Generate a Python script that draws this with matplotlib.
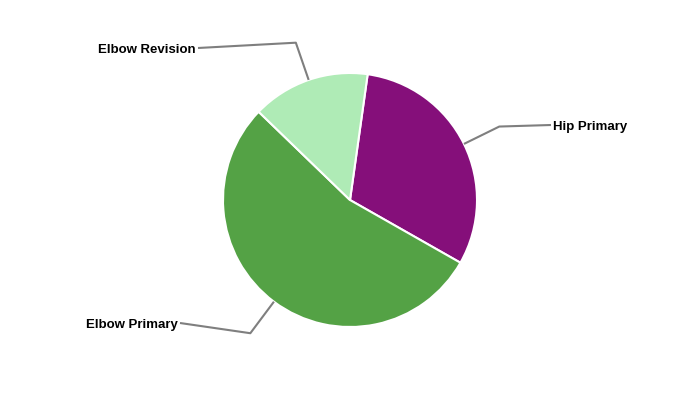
import numpy as np
import matplotlib.pyplot as plt

# pie data
categories = ['Hip Primary', 'Elbow Primary', 'Elbow Revision']
values = [31, 54, 15]
colors = ['#850f7a', '#54a245', '#afebb6']

W, H = 700, 400
cx, cy, r = 350, 200, 127
start = 82  # degrees, ccw from x axis; slices go clockwise

# label anchor points (pixel coords, y down) and alignment
label_pos = {
    'Hip Primary': (553, 125, 'left'),
    'Elbow Primary': (178, 323, 'right'),
    'Elbow Revision': (196, 48, 'right'),
}

fig = plt.figure(figsize=(7, 4), dpi=100)
ax = fig.add_axes([0, 0, 1, 1])

wedges, _ = ax.pie(values, colors=colors, startangle=start, counterclock=False,
                   radius=r, center=(cx, H - cy),
                   wedgeprops=dict(edgecolor='white', linewidth=1.5))

ax.set_xlim(0, W)
ax.set_ylim(0, H)
ax.set_aspect('equal')
ax.axis('off')

for w, name in zip(wedges, categories):
    mid = np.deg2rad((w.theta1 + w.theta2) / 2)
    x0, y0 = cx + r * np.cos(mid), (H - cy) + r * np.sin(mid)
    x1, y1 = cx + 1.31 * r * np.cos(mid), (H - cy) + 1.31 * r * np.sin(mid)
    lx, ly, ha = label_pos[name]
    ax.plot([x0, x1, lx + (-2 if ha == 'left' else 2)], [y0, y1, H - ly],
            color='#7f7f7f', lw=1.5, solid_capstyle='butt')
    ax.text(lx, H - ly - 2, name, ha=ha, va='center', fontsize=9.5,
            fontweight='bold', family='Liberation Sans', color='black')

fig.savefig('out.png', dpi=100)
